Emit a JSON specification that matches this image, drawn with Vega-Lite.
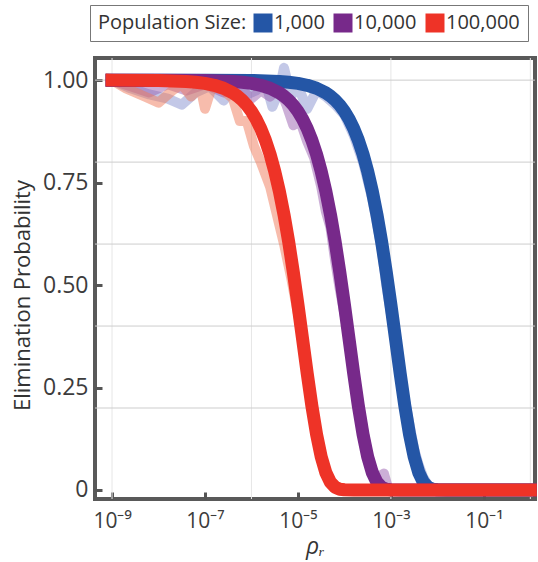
{
  "$schema": "https://vega.github.io/schema/vega-lite/v6.json",
  "autosize": {"type": "none"},
  "width": 440,
  "height": 441,
  "padding": {"left": 95, "top": 58, "right": 3, "bottom": 63},
  "background": "white",
  "config": {
    "font": "Open Sans",
    "view": {"stroke": "#595959", "strokeWidth": 4}
  },
  "datasets": {
    "vgrid": [{"rho": 1e-9}, {"rho": 1e-6}, {"rho": 1e-3}, {"rho": 1}],
    "hgrid": [{"p": 0.2}, {"p": 0.4}, {"p": 0.6}, {"p": 0.8}, {"p": 1.0}],
    "bands": [
      {"size": "1,000", "rho": 1e-9, "p": 1.0},
      {"size": "1,000", "rho": 2.512e-9, "p": 0.98},
      {"size": "1,000", "rho": 6.31e-9, "p": 0.965},
      {"size": "1,000", "rho": 1.585e-8, "p": 0.955},
      {"size": "1,000", "rho": 3.162e-8, "p": 0.94},
      {"size": "1,000", "rho": 6.31e-8, "p": 0.97},
      {"size": "1,000", "rho": 1.259e-7, "p": 0.985},
      {"size": "1,000", "rho": 2.512e-7, "p": 0.95},
      {"size": "1,000", "rho": 5.012e-7, "p": 0.99},
      {"size": "1,000", "rho": 7.943e-7, "p": 0.965},
      {"size": "1,000", "rho": 1.259e-6, "p": 0.975},
      {"size": "1,000", "rho": 1.995e-6, "p": 0.995},
      {"size": "1,000", "rho": 2.818e-6, "p": 0.935},
      {"size": "1,000", "rho": 3.981e-6, "p": 0.975},
      {"size": "1,000", "rho": 5.012e-6, "p": 1.03},
      {"size": "1,000", "rho": 7.079e-6, "p": 0.96},
      {"size": "1,000", "rho": 1e-5, "p": 0.985},
      {"size": "1,000", "rho": 1.585e-5, "p": 0.93},
      {"size": "1,000", "rho": 2.512e-5, "p": 0.975},
      {"size": "1,000", "rho": 3.981e-5, "p": 0.96},
      {"size": "1,000", "rho": 6.31e-5, "p": 0.94},
      {"size": "1,000", "rho": 1e-4, "p": 0.915},
      {"size": "1,000", "rho": 1.585e-4, "p": 0.865},
      {"size": "1,000", "rho": 2.512e-4, "p": 0.8},
      {"size": "1,000", "rho": 3.981e-4, "p": 0.71},
      {"size": "1,000", "rho": 6.31e-4, "p": 0.59},
      {"size": "1,000", "rho": 7.943e-4, "p": 0.5},
      {"size": "1,000", "rho": 1e-3, "p": 0.43},
      {"size": "1,000", "rho": 1.259e-3, "p": 0.36},
      {"size": "1,000", "rho": 1.585e-3, "p": 0.29},
      {"size": "1,000", "rho": 1.995e-3, "p": 0.22},
      {"size": "1,000", "rho": 2.512e-3, "p": 0.16},
      {"size": "1,000", "rho": 3.162e-3, "p": 0.1},
      {"size": "1,000", "rho": 3.981e-3, "p": 0.06},
      {"size": "1,000", "rho": 5.012e-3, "p": 0.03},
      {"size": "1,000", "rho": 6.31e-3, "p": 0.012},
      {"size": "1,000", "rho": 7.943e-3, "p": 0.003},
      {"size": "1,000", "rho": 1e-2, "p": 0},
      {"size": "1,000", "rho": 1, "p": 0},
      {"size": "10,000", "rho": 1e-9, "p": 1.0},
      {"size": "10,000", "rho": 2.512e-9, "p": 0.985},
      {"size": "10,000", "rho": 6.31e-9, "p": 0.97},
      {"size": "10,000", "rho": 1.585e-8, "p": 0.99},
      {"size": "10,000", "rho": 3.981e-8, "p": 0.975},
      {"size": "10,000", "rho": 1e-7, "p": 0.99},
      {"size": "10,000", "rho": 2.512e-7, "p": 0.97},
      {"size": "10,000", "rho": 5.012e-7, "p": 0.985},
      {"size": "10,000", "rho": 1e-6, "p": 0.955},
      {"size": "10,000", "rho": 1.585e-6, "p": 0.975},
      {"size": "10,000", "rho": 2.512e-6, "p": 0.96},
      {"size": "10,000", "rho": 3.981e-6, "p": 0.98},
      {"size": "10,000", "rho": 5.623e-6, "p": 0.94},
      {"size": "10,000", "rho": 7.943e-6, "p": 0.89},
      {"size": "10,000", "rho": 1.122e-5, "p": 0.9},
      {"size": "10,000", "rho": 1.585e-5, "p": 0.85},
      {"size": "10,000", "rho": 2.239e-5, "p": 0.81},
      {"size": "10,000", "rho": 3.162e-5, "p": 0.74},
      {"size": "10,000", "rho": 3.981e-5, "p": 0.68},
      {"size": "10,000", "rho": 5.012e-5, "p": 0.64},
      {"size": "10,000", "rho": 6.31e-5, "p": 0.56},
      {"size": "10,000", "rho": 7.943e-5, "p": 0.49},
      {"size": "10,000", "rho": 1e-4, "p": 0.43},
      {"size": "10,000", "rho": 1.259e-4, "p": 0.375},
      {"size": "10,000", "rho": 1.585e-4, "p": 0.295},
      {"size": "10,000", "rho": 1.995e-4, "p": 0.22},
      {"size": "10,000", "rho": 2.512e-4, "p": 0.15},
      {"size": "10,000", "rho": 3.162e-4, "p": 0.09},
      {"size": "10,000", "rho": 3.981e-4, "p": 0.05},
      {"size": "10,000", "rho": 5.012e-4, "p": 0.03},
      {"size": "10,000", "rho": 7.079e-4, "p": 0.04},
      {"size": "10,000", "rho": 8.913e-4, "p": 0.0},
      {"size": "10,000", "rho": 1.259e-3, "p": 0},
      {"size": "10,000", "rho": 1, "p": 0},
      {"size": "100,000", "rho": 1e-9, "p": 1.0},
      {"size": "100,000", "rho": 1.995e-9, "p": 0.98},
      {"size": "100,000", "rho": 5.012e-9, "p": 0.96},
      {"size": "100,000", "rho": 1e-8, "p": 0.945},
      {"size": "100,000", "rho": 1.995e-8, "p": 0.975},
      {"size": "100,000", "rho": 3.162e-8, "p": 0.99},
      {"size": "100,000", "rho": 5.012e-8, "p": 0.96},
      {"size": "100,000", "rho": 7.943e-8, "p": 0.985},
      {"size": "100,000", "rho": 1e-7, "p": 0.93},
      {"size": "100,000", "rho": 1.413e-7, "p": 0.985},
      {"size": "100,000", "rho": 2.512e-7, "p": 0.975},
      {"size": "100,000", "rho": 3.981e-7, "p": 0.955},
      {"size": "100,000", "rho": 5.623e-7, "p": 0.9},
      {"size": "100,000", "rho": 7.943e-7, "p": 0.9},
      {"size": "100,000", "rho": 1.122e-6, "p": 0.84},
      {"size": "100,000", "rho": 1.585e-6, "p": 0.8},
      {"size": "100,000", "rho": 2.512e-6, "p": 0.74},
      {"size": "100,000", "rho": 3.548e-6, "p": 0.67},
      {"size": "100,000", "rho": 5.012e-6, "p": 0.6},
      {"size": "100,000", "rho": 7.079e-6, "p": 0.52},
      {"size": "100,000", "rho": 1e-5, "p": 0.43},
      {"size": "100,000", "rho": 1.259e-5, "p": 0.375},
      {"size": "100,000", "rho": 1.585e-5, "p": 0.295},
      {"size": "100,000", "rho": 1.995e-5, "p": 0.215},
      {"size": "100,000", "rho": 2.512e-5, "p": 0.145},
      {"size": "100,000", "rho": 3.162e-5, "p": 0.09},
      {"size": "100,000", "rho": 3.981e-5, "p": 0.048},
      {"size": "100,000", "rho": 5.012e-5, "p": 0.021},
      {"size": "100,000", "rho": 7.943e-5, "p": 0.003},
      {"size": "100,000", "rho": 1.259e-4, "p": 0},
      {"size": "100,000", "rho": 1, "p": 0}
    ],
    "curves": [
      {"size": "1,000", "rho": 1e-9, "p": 1},
      {"size": "1,000", "rho": 1e-7, "p": 0.9999},
      {"size": "1,000", "rho": 1e-6, "p": 0.9992},
      {"size": "1,000", "rho": 3.981e-6, "p": 0.9968},
      {"size": "1,000", "rho": 6.31e-6, "p": 0.995},
      {"size": "1,000", "rho": 1e-5, "p": 0.9921},
      {"size": "1,000", "rho": 1.585e-5, "p": 0.9875},
      {"size": "1,000", "rho": 2.512e-5, "p": 0.9802},
      {"size": "1,000", "rho": 3.981e-5, "p": 0.9689},
      {"size": "1,000", "rho": 5.012e-5, "p": 0.961},
      {"size": "1,000", "rho": 6.31e-5, "p": 0.9511},
      {"size": "1,000", "rho": 7.943e-5, "p": 0.9389},
      {"size": "1,000", "rho": 1e-4, "p": 0.9236},
      {"size": "1,000", "rho": 1.259e-4, "p": 0.9048},
      {"size": "1,000", "rho": 1.585e-4, "p": 0.8817},
      {"size": "1,000", "rho": 1.995e-4, "p": 0.8534},
      {"size": "1,000", "rho": 2.512e-4, "p": 0.8191},
      {"size": "1,000", "rho": 3.162e-4, "p": 0.7779},
      {"size": "1,000", "rho": 3.981e-4, "p": 0.7289},
      {"size": "1,000", "rho": 5.012e-4, "p": 0.6716},
      {"size": "1,000", "rho": 6.31e-4, "p": 0.6058},
      {"size": "1,000", "rho": 7.943e-4, "p": 0.5321},
      {"size": "1,000", "rho": 1e-3, "p": 0.4519},
      {"size": "1,000", "rho": 1.259e-3, "p": 0.3679},
      {"size": "1,000", "rho": 1.585e-3, "p": 0.284},
      {"size": "1,000", "rho": 1.995e-3, "p": 0.205},
      {"size": "1,000", "rho": 2.512e-3, "p": 0.136},
      {"size": "1,000", "rho": 3.162e-3, "p": 0.0811},
      {"size": "1,000", "rho": 3.981e-3, "p": 0.0423},
      {"size": "1,000", "rho": 5.012e-3, "p": 0.0187},
      {"size": "1,000", "rho": 6.31e-3, "p": 0.0067},
      {"size": "1,000", "rho": 7.943e-3, "p": 0.0018},
      {"size": "1,000", "rho": 1e-2, "p": 0.0004},
      {"size": "1,000", "rho": 1.585e-2, "p": 0},
      {"size": "1,000", "rho": 1, "p": 0},
      {"size": "10,000", "rho": 1e-9, "p": 1},
      {"size": "10,000", "rho": 1e-8, "p": 0.9999},
      {"size": "10,000", "rho": 1e-7, "p": 0.9992},
      {"size": "10,000", "rho": 3.981e-7, "p": 0.9968},
      {"size": "10,000", "rho": 6.31e-7, "p": 0.995},
      {"size": "10,000", "rho": 1e-6, "p": 0.9921},
      {"size": "10,000", "rho": 1.585e-6, "p": 0.9875},
      {"size": "10,000", "rho": 2.512e-6, "p": 0.9802},
      {"size": "10,000", "rho": 3.981e-6, "p": 0.9689},
      {"size": "10,000", "rho": 5.012e-6, "p": 0.961},
      {"size": "10,000", "rho": 6.31e-6, "p": 0.9511},
      {"size": "10,000", "rho": 7.943e-6, "p": 0.9389},
      {"size": "10,000", "rho": 1e-5, "p": 0.9236},
      {"size": "10,000", "rho": 1.259e-5, "p": 0.9048},
      {"size": "10,000", "rho": 1.585e-5, "p": 0.8817},
      {"size": "10,000", "rho": 1.995e-5, "p": 0.8534},
      {"size": "10,000", "rho": 2.512e-5, "p": 0.8191},
      {"size": "10,000", "rho": 3.162e-5, "p": 0.7779},
      {"size": "10,000", "rho": 3.981e-5, "p": 0.7289},
      {"size": "10,000", "rho": 5.012e-5, "p": 0.6716},
      {"size": "10,000", "rho": 6.31e-5, "p": 0.6058},
      {"size": "10,000", "rho": 7.943e-5, "p": 0.5321},
      {"size": "10,000", "rho": 1e-4, "p": 0.4519},
      {"size": "10,000", "rho": 1.259e-4, "p": 0.3679},
      {"size": "10,000", "rho": 1.585e-4, "p": 0.284},
      {"size": "10,000", "rho": 1.995e-4, "p": 0.205},
      {"size": "10,000", "rho": 2.512e-4, "p": 0.136},
      {"size": "10,000", "rho": 3.162e-4, "p": 0.0811},
      {"size": "10,000", "rho": 3.981e-4, "p": 0.0423},
      {"size": "10,000", "rho": 5.012e-4, "p": 0.0187},
      {"size": "10,000", "rho": 6.31e-4, "p": 0.0067},
      {"size": "10,000", "rho": 7.943e-4, "p": 0.0018},
      {"size": "10,000", "rho": 1e-3, "p": 0.0004},
      {"size": "10,000", "rho": 1.585e-3, "p": 0},
      {"size": "10,000", "rho": 1, "p": 0},
      {"size": "100,000", "rho": 1e-9, "p": 1},
      {"size": "100,000", "rho": 1e-8, "p": 0.9992},
      {"size": "100,000", "rho": 3.981e-8, "p": 0.9968},
      {"size": "100,000", "rho": 6.31e-8, "p": 0.995},
      {"size": "100,000", "rho": 1e-7, "p": 0.9921},
      {"size": "100,000", "rho": 1.585e-7, "p": 0.9875},
      {"size": "100,000", "rho": 2.512e-7, "p": 0.9802},
      {"size": "100,000", "rho": 3.981e-7, "p": 0.9689},
      {"size": "100,000", "rho": 5.012e-7, "p": 0.961},
      {"size": "100,000", "rho": 6.31e-7, "p": 0.9511},
      {"size": "100,000", "rho": 7.943e-7, "p": 0.9389},
      {"size": "100,000", "rho": 1e-6, "p": 0.9236},
      {"size": "100,000", "rho": 1.259e-6, "p": 0.9048},
      {"size": "100,000", "rho": 1.585e-6, "p": 0.8817},
      {"size": "100,000", "rho": 1.995e-6, "p": 0.8534},
      {"size": "100,000", "rho": 2.512e-6, "p": 0.8191},
      {"size": "100,000", "rho": 3.162e-6, "p": 0.7779},
      {"size": "100,000", "rho": 3.981e-6, "p": 0.7289},
      {"size": "100,000", "rho": 5.012e-6, "p": 0.6716},
      {"size": "100,000", "rho": 6.31e-6, "p": 0.6058},
      {"size": "100,000", "rho": 7.943e-6, "p": 0.5321},
      {"size": "100,000", "rho": 1e-5, "p": 0.4519},
      {"size": "100,000", "rho": 1.259e-5, "p": 0.3679},
      {"size": "100,000", "rho": 1.585e-5, "p": 0.284},
      {"size": "100,000", "rho": 1.995e-5, "p": 0.205},
      {"size": "100,000", "rho": 2.512e-5, "p": 0.136},
      {"size": "100,000", "rho": 3.162e-5, "p": 0.0811},
      {"size": "100,000", "rho": 3.981e-5, "p": 0.0423},
      {"size": "100,000", "rho": 5.012e-5, "p": 0.0187},
      {"size": "100,000", "rho": 6.31e-5, "p": 0.0067},
      {"size": "100,000", "rho": 7.943e-5, "p": 0.0018},
      {"size": "100,000", "rho": 1e-4, "p": 0.0004},
      {"size": "100,000", "rho": 1.585e-4, "p": 0},
      {"size": "100,000", "rho": 1, "p": 0}
    ]
  },
  "layer": [
    {
      "data": {"name": "vgrid"},
      "mark": {"type": "rule", "color": "#e6e6e6", "strokeWidth": 1},
      "encoding": {
        "x": {
          "field": "rho", "type": "quantitative",
          "scale": {"type": "log", "domain": [4.3e-10, 1.26], "nice": false},
          "axis": {
            "values": [1e-9, 1e-7, 1e-5, 1e-3, 1e-1],
            "labelExpr": "datum.value < 5e-9 ? '10⁻⁹' : datum.value < 5e-7 ? '10⁻⁷' : datum.value < 5e-5 ? '10⁻⁵' : datum.value < 5e-3 ? '10⁻³' : '10⁻¹'",
            "grid": false, "domain": false,
            "tickSize": -7, "tickWidth": 3, "tickColor": "#555555",
            "labelFontSize": 21, "labelColor": "#3c3c3c", "labelPadding": 18,
            "labelFlush": false, "labelOverlap": false,
            "title": "ρᵣ", "titleFontSize": 23, "titleFontStyle": "italic", "titleFontWeight": "normal", "titleColor": "#333333", "titlePadding": 4
          }
        }
      }
    },
    {
      "data": {"name": "hgrid"},
      "mark": {"type": "rule", "color": "#cdcdcd", "strokeWidth": 1},
      "encoding": {
        "y": {
          "field": "p", "type": "quantitative",
          "scale": {"domain": [-0.022, 1.054], "nice": false, "zero": false},
          "axis": {
            "values": [0, 0.25, 0.5, 0.75, 1],
            "labelExpr": "datum.value == 0 ? '0' : format(datum.value, '.2f')",
            "grid": false, "domain": false,
            "tickSize": -7, "tickWidth": 3, "tickColor": "#555555",
            "labelFontSize": 23, "labelColor": "#3c3c3c", "labelPadding": 14,
            "title": "Elimination Probability", "titleFontSize": 22, "titleFontWeight": "normal", "titleColor": "#333333", "titlePadding": 8, "titleY": 237
          }
        }
      }
    },
    {
      "data": {"name": "bands"},
      "mark": {"type": "line", "strokeWidth": 10, "opacity": 0.5, "strokeJoin": "round"},
      "encoding": {
        "x": {"field": "rho", "type": "quantitative"},
        "y": {"field": "p", "type": "quantitative"},
        "color": {"field": "size", "type": "nominal", "scale": {"domain": ["1,000", "10,000", "100,000"], "range": ["#8891D0", "#9A5FB0", "#F07A5A"]}, "legend": null}
      }
    },
    {
      "data": {"name": "curves"},
      "mark": {"type": "line", "strokeWidth": 13, "strokeCap": "square", "strokeJoin": "round"},
      "encoding": {
        "x": {"field": "rho", "type": "quantitative"},
        "y": {"field": "p", "type": "quantitative"},
        "color": {"field": "size", "type": "nominal", "scale": {"domain": ["1,000", "10,000", "100,000"], "range": ["#2456A6", "#77298A", "#EE3327"]}, "legend": null}
      }
    },
    {
      "data": {"name": "curves"},
      "mark": {"type": "square", "opacity": 0},
      "encoding": {
        "x": {"field": "rho", "type": "quantitative"},
        "y": {"field": "p", "type": "quantitative"},
        "color": {
          "field": "size", "type": "nominal",
          "scale": {"domain": ["1,000", "10,000", "100,000"], "range": ["#2456A6", "#77298A", "#EE3327"]},
          "legend": {
            "orient": "none", "legendX": -5, "legendY": -53, "direction": "horizontal",
            "title": "Population Size:", "titleOrient": "left", "titleFontSize": 20, "titleFontWeight": "normal", "titleColor": "#333333", "titlePadding": 6,
            "labelFontSize": 20, "labelColor": "#333333", "labelOffset": 1,
            "symbolType": "square", "symbolSize": 361, "symbolStrokeWidth": 0, "symbolOpacity": 1,
            "columnPadding": 8, "strokeColor": "#777777", "fillColor": "white", "padding": 8
          }
        }
      }
    }
  ],
  "resolve": {"scale": {"color": "independent"}}
}
